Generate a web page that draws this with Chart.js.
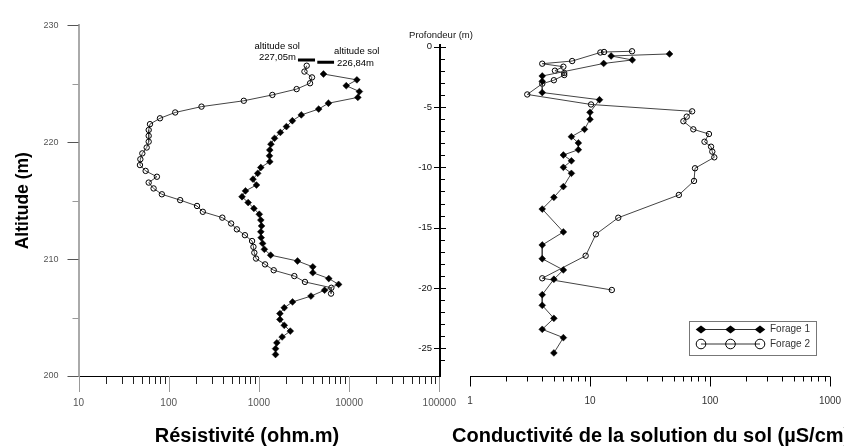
<!DOCTYPE html>
<html>
<head>
<meta charset="utf-8">
<script src="https://cdn.jsdelivr.net/npm/chart.js@4.4.0/dist/chart.umd.min.js"></script>
<style>
  body { margin: 0; background: #fff; }
  #wrap { position: relative; width: 844px; height: 448px; overflow: hidden; background: #fff; }
  canvas { position: absolute; top: 0; }
  #left { left: 0; }
  #right { left: 380px; }
</style>
</head>
<body>
<div id="wrap">
  <canvas id="left" width="480" height="448"></canvas>
  <canvas id="right" width="500" height="448"></canvas>
</div>
<script>
const FONT = "'Liberation Sans', Arial, sans-serif";
Chart.defaults.font.family = FONT;

// left panel : resistivity (ohm.m) vs altitude (m)
const altF1 = [225.84, 225.34, 224.84, 224.34, 223.84, 223.34, 222.84, 222.34, 221.84, 221.34,
  220.84, 220.34, 219.84, 219.34, 218.84, 218.34, 217.84, 217.34, 216.84, 216.34,
  215.84, 215.34, 214.84, 214.34, 213.84, 213.34, 212.84, 212.34, 211.84, 211.34,
  210.84, 210.34, 209.84, 209.34, 208.84, 208.34, 207.84, 207.34, 206.84, 206.34,
  205.84, 205.34, 204.84, 204.34, 203.84, 203.34, 202.84, 202.34, 201.84];
const resF1 = [5200, 12200, 9300, 13000, 12500, 5900, 4600, 2950, 2350, 2020,
  1730, 1490, 1360, 1320, 1310, 1320, 1050, 970, 860, 940,
  710, 650, 760, 880, 1010, 1050, 1070, 1050, 1060, 1100,
  1150, 1350, 2680, 3960, 3960, 5950, 7650, 5350, 3780, 2360,
  1910, 1710, 1710, 1910, 2230, 1810, 1580, 1530, 1530];
const altF2 = [226.55, 226.05, 225.55, 225.05, 224.55, 224.05, 223.55, 223.05, 222.55, 222.05,
  221.55, 221.05, 220.55, 220.05, 219.55, 219.05, 218.55, 218.05, 217.55, 217.05,
  216.55, 216.05, 215.55, 215.05, 214.55, 214.05, 213.55, 213.05, 212.55, 212.05,
  211.55, 211.05, 210.55, 210.05, 209.55, 209.05, 208.55, 208.05, 207.55, 207.05];
const resF2 = [3390, 3200, 3880, 3690, 2620, 1410, 680, 231, 118, 80,
  62, 60, 60, 60, 57, 51, 48.5, 48, 55.5, 74,
  60, 68, 84, 134, 206, 239, 393, 492, 570, 700,
  840, 870, 890, 930, 1170, 1460, 2470, 3240, 6360, 6310];

// ground level of each borehole (short bars with a note)
const groundAlt = [227.05, 226.84];
const groundRes = [[2710, 4190], [4440, 6810]];
const groundText = ['227,05m', '226,84m'];

// right panel : conductivity of soil solution (µS/cm) vs depth (m)
const depthF1 = [-0.6, -0.77, -1.1, -1.39, -2.43, -2.87, -3.8, -4.4, -5.44, -6.02,
  -6.85, -7.46, -7.98, -8.54, -8.98, -9.46, -10.0, -10.5, -11.6, -12.49,
  -13.46, -15.36, -16.44, -17.58, -18.51, -19.28, -20.56, -21.44, -22.52, -23.43,
  -24.12, -25.39];
const condF1 = [46, 15, 22.5, 13, 4, 4, 4, 12, 10, 10,
  9, 7, 8, 8, 6, 7, 6, 7, 6, 5,
  4, 6, 4, 4, 6, 5, 4, 4, 5, 4,
  6, 5];
const depthF2 = [-0.38, -0.44, -0.48, -1.19, -1.41, -1.66, -1.99, -2.18, -2.35, -2.78,
  -3.07, -3.96, -4.79, -5.36, -5.8, -6.18, -6.85, -7.24, -7.88, -8.29,
  -8.7, -9.17, -10.08, -11.13, -12.29, -14.18, -15.55, -17.33, -19.2, -20.17];
const condF2 = [22.4, 13.1, 12.2, 7.1, 4, 6, 5.1, 6.1, 6.1, 5,
  4, 3, 10.2, 71, 64, 60, 72.6, 98, 90, 102,
  104.5, 108.6, 75, 73.6, 55, 17.2, 11.2, 9.2, 4, 15.2];

const seriesNames = ['Forage 1', 'Forage 2'];
const altTicks = [200, 205, 210, 215, 220, 225, 230];
const depthTicks = [0, -5, -10, -15, -20, -25];

function isDecade(v) {
  const l = Math.log10(v);
  return Math.abs(l - Math.round(l)) < 1e-6;
}
function logTicks(decades, last) {
  const t = [];
  decades.forEach(d => { for (let m = 1; m < 10; m++) t.push(d * m); });
  t.push(last);
  return t;
}
const resTicks = logTicks([10, 100, 1000, 10000], 100000);
const condTicks = logTicks([1, 10, 100], 1000);
const depthMinor = [];
for (let d = -1; d >= -26; d--) if (d % 5 !== 0) depthMinor.push(d);

function pts(xs, ys) { return xs.map((v, i) => ({ x: v, y: ys[i] })); }

const diamondSet = {
  showLine: true, borderColor: '#444', borderWidth: 1, tension: 0,
  pointStyle: 'rectRot', pointRadius: 3.4, pointBackgroundColor: '#000',
  pointBorderColor: '#000', pointBorderWidth: 0.5
};
const circleSet = {
  showLine: true, borderColor: '#444', borderWidth: 1, tension: 0,
  pointStyle: 'circle', pointRadius: 2.7, pointBackgroundColor: 'rgba(0,0,0,0)',
  pointBorderColor: '#000', pointBorderWidth: 1
};

const drawLeft = {
  id: 'drawLeft',
  afterDraw(chart) {
    const { ctx, chartArea: a, scales: { x, y } } = chart;
    ctx.save();
    ctx.lineWidth = 1;
    resTicks.forEach(v => {
      const px = Math.round(x.getPixelForValue(v)) + 0.5;
      const big = isDecade(v);
      ctx.strokeStyle = big ? '#999' : '#222';
      ctx.beginPath();
      ctx.moveTo(px, a.bottom);
      ctx.lineTo(px, a.bottom + (big ? 16 : 8));
      ctx.stroke();
    });
    altTicks.forEach(v => {
      const py = Math.round(y.getPixelForValue(v)) + 0.5;
      const big = v % 10 === 0;
      ctx.strokeStyle = big ? '#555' : '#999';
      ctx.beginPath();
      ctx.moveTo(a.left - (big ? 11 : 6), py);
      ctx.lineTo(a.left, py);
      ctx.stroke();
    });
    // ground level notes
    ctx.fillStyle = '#000';
    ctx.font = '9.5px ' + FONT;
    ctx.textBaseline = 'middle';
    const x0 = x.getPixelForValue(groundRes[0][0]);
    const y0 = y.getPixelForValue(groundAlt[0]);
    ctx.textAlign = 'right';
    ctx.fillText('altitude sol', x0 + 2, y0 - 13.5);
    ctx.fillText(groundText[0], x0 - 2, y0 - 2.2);
    const x1 = x.getPixelForValue(groundRes[1][1]);
    const y1 = y.getPixelForValue(groundAlt[1]);
    ctx.textAlign = 'left';
    ctx.fillText('altitude sol', x1, y1 - 11);
    ctx.fillText(groundText[1], x1 + 3, y1 + 1);
    // x title
    ctx.font = 'bold 20px ' + FONT;
    ctx.textAlign = 'center';
    ctx.textBaseline = 'alphabetic';
    ctx.fillText('Résistivité (ohm.m)', 247, 441.5);
    ctx.restore();
  }
};

const drawRight = {
  id: 'drawRight',
  afterDraw(chart) {
    const { ctx, chartArea: a, scales: { x, y } } = chart;
    ctx.save();
    ctx.strokeStyle = '#000';
    ctx.lineWidth = 1;
    const yb = Math.round(a.bottom) + 0.5;
    ctx.beginPath();
    ctx.moveTo(x.getPixelForValue(condTicks[0]), yb);
    ctx.lineTo(x.getPixelForValue(condTicks[condTicks.length - 1]), yb);
    ctx.stroke();
    condTicks.forEach(v => {
      const px = Math.round(x.getPixelForValue(v)) + 0.5;
      ctx.beginPath();
      ctx.moveTo(px, yb);
      ctx.lineTo(px, yb + (isDecade(v) ? 10 : 5));
      ctx.stroke();
    });
    depthMinor.forEach(v => {
      const py = Math.round(y.getPixelForValue(v)) + 0.5;
      ctx.beginPath();
      ctx.moveTo(a.left, py);
      ctx.lineTo(a.left + 5, py);
      ctx.stroke();
    });
    depthTicks.forEach(v => {
      const py = Math.round(y.getPixelForValue(v)) + 0.5;
      ctx.beginPath();
      ctx.moveTo(a.left - 6, py);
      ctx.lineTo(a.left + 6, py);
      ctx.stroke();
    });

    // legend
    const bx = 309.5, by = 321.5, bw = 127, bh = 34;
    ctx.strokeStyle = '#777';
    ctx.strokeRect(bx, by, bw, bh);
    const mx = [321, 350.5, 380];
    const rows = [329.5, 344];
    ctx.strokeStyle = '#333';
    rows.forEach(ry => {
      ctx.beginPath();
      ctx.moveTo(mx[0], ry);
      ctx.lineTo(mx[2], ry);
      ctx.stroke();
    });
    ctx.fillStyle = '#000';
    mx.forEach(cx => {
      ctx.beginPath();
      ctx.moveTo(cx - 5.3, rows[0]);
      ctx.lineTo(cx, rows[0] - 4);
      ctx.lineTo(cx + 5.3, rows[0]);
      ctx.lineTo(cx, rows[0] + 4);
      ctx.closePath();
      ctx.fill();
      ctx.beginPath();
      ctx.arc(cx, rows[1], 4.8, 0, Math.PI * 2);
      ctx.strokeStyle = '#000';
      ctx.stroke();
    });
    ctx.fillStyle = '#333';
    ctx.font = '10px ' + FONT;
    ctx.textAlign = 'left';
    ctx.textBaseline = 'middle';
    ctx.fillText(seriesNames[0], 390, rows[0]);
    ctx.fillText(seriesNames[1], 390, rows[1]);

    // depth label and x title
    ctx.fillStyle = '#111';
    ctx.font = '9.5px ' + FONT;
    ctx.textAlign = 'center';
    ctx.fillText('Profondeur (m)', a.left + 1, 35);
    ctx.fillStyle = '#000';
    ctx.font = 'bold 20px ' + FONT;
    ctx.textAlign = 'left';
    ctx.textBaseline = 'alphabetic';
    ctx.fillText('Conductivité de la solution du sol (µS/cm)', 72, 441.5);
    ctx.restore();
  }
};

new Chart(document.getElementById('left'), {
  type: 'scatter',
  data: {
    datasets: [
      Object.assign({ label: seriesNames[0], data: pts(resF1, altF1) }, diamondSet),
      Object.assign({ label: seriesNames[1], data: pts(resF2, altF2) }, circleSet),
      { label: 'sol 2', data: pts(groundRes[0], [groundAlt[0], groundAlt[0]]), showLine: true,
        borderColor: '#000', borderWidth: 3, pointRadius: 0 },
      { label: 'sol 1', data: pts(groundRes[1], [groundAlt[1], groundAlt[1]]), showLine: true,
        borderColor: '#000', borderWidth: 3, pointRadius: 0 }
    ]
  },
  options: {
    responsive: false,
    animation: false,
    devicePixelRatio: 1,
    layout: { padding: { left: 0, right: 40.7, top: 15, bottom: 0 } },
    plugins: { legend: { display: false }, tooltip: { enabled: false } },
    scales: {
      x: {
        type: 'logarithmic', min: 10, max: 100000,
        afterBuildTicks: s => { s.ticks = resTicks.map(v => ({ value: v })); },
        afterFit: s => { s.height = 72; },
        grid: { display: false, drawTicks: false },
        border: { display: true, color: '#000', width: 1 },
        ticks: {
          autoSkip: false, maxRotation: 0, padding: 21, color: '#555',
          font: { size: 10 },
          callback: v => isDecade(v) ? String(v) : ''
        }
      },
      y: {
        min: 200, max: 230,
        afterBuildTicks: s => { s.ticks = altTicks.map(v => ({ value: v })); },
        afterFit: s => { s.width = 78.5; },
        grid: { display: false, drawTicks: false },
        border: { display: true, color: '#aaa', width: 2 },
        ticks: {
          autoSkip: false, padding: 20, color: '#555', font: { size: 9 },
          callback: v => v % 10 === 0 ? String(v) : ''
        },
        title: {
          display: true, text: 'Altitude (m)', color: '#000',
          font: { size: 17.5, weight: 'bold', lineHeight: 1 },
          padding: { top: 14.5, bottom: 0 }
        }
      }
    }
  },
  plugins: [drawLeft]
});

new Chart(document.getElementById('right'), {
  type: 'scatter',
  data: {
    datasets: [
      Object.assign({ label: seriesNames[0], data: pts(condF1, depthF1) }, diamondSet),
      Object.assign({ label: seriesNames[1], data: pts(condF2, depthF2) }, circleSet)
    ]
  },
  options: {
    responsive: false,
    animation: false,
    devicePixelRatio: 1,
    layout: { padding: { left: 0, right: 50, top: 45, bottom: 0 } },
    plugins: { legend: { display: false }, tooltip: { enabled: false } },
    scales: {
      x: {
        type: 'logarithmic', min: Math.pow(10, -0.25), max: 1000,
        afterBuildTicks: s => { s.ticks = condTicks.map(v => ({ value: v })); },
        afterFit: s => { s.height = 72; },
        grid: { display: false, drawTicks: false },
        border: { display: false },
        ticks: {
          autoSkip: false, maxRotation: 0, padding: 19, color: '#333',
          font: { size: 10 },
          callback: v => isDecade(v) ? String(v) : ''
        }
      },
      y: {
        min: -27.3, max: 0.14,
        afterBuildTicks: s => { s.ticks = depthTicks.map(v => ({ value: v })); },
        afterFit: s => { s.width = 60; },
        grid: { display: false, drawTicks: false },
        border: { display: true, color: '#000', width: 2 },
        ticks: {
          autoSkip: false, padding: 8, color: '#111', font: { size: 9.5 },
          callback: v => String(v)
        }
      }
    }
  },
  plugins: [drawRight]
});
</script>
</body>
</html>
